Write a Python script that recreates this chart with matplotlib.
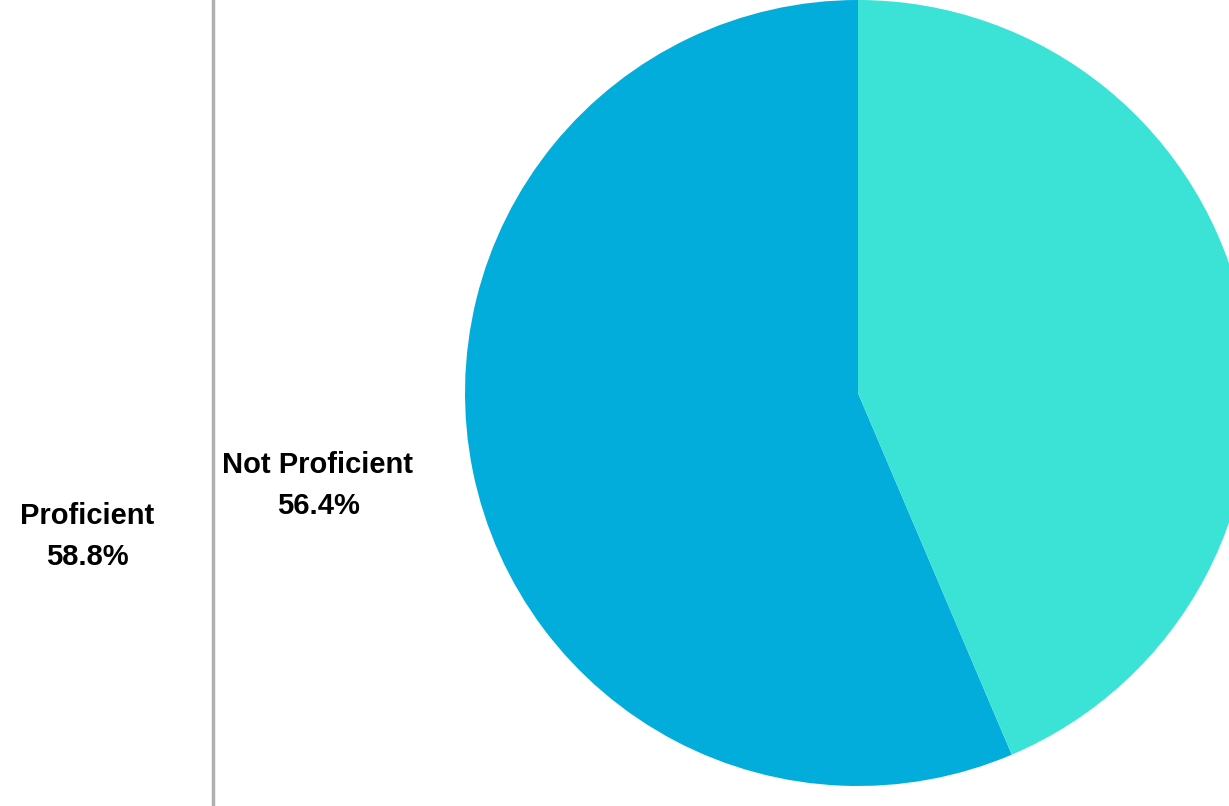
import matplotlib.pyplot as plt

# slice shares (percent)
slices = ['Not Proficient', 'Proficient']
shares = [56.4, 43.6]
colores = ['#03addb', '#3ae3d5']

# labels shown at the left
etiquetas = ['Proficient', 'Not Proficient']
valores = [58.8, 56.4]

plt.rcParams['font.family'] = ['Liberation Sans', 'DejaVu Sans']

fig = plt.figure(figsize=(12.29, 8.06), dpi=100)
ax = fig.add_axes([0, 0, 1, 1])

ax.pie(shares, colors=colores, startangle=90, counterclock=True,
       center=(858, 413), radius=393, frame=True,
       wedgeprops=dict(linewidth=0))
ax.set_xlim(0, 1229)
ax.set_ylim(0, 806)
ax.set_aspect('equal')
ax.axis('off')

# separador vertical
ax.plot([213, 213], [0, 806], color='#b0b0b0', lw=2.5)

pos = [(87, 270), (318, 321)]
for (x, y), lab, v in zip(pos, etiquetas, valores):
    ax.text(x, y + 20, lab, ha='center', va='center', fontsize=21, fontweight='bold')
    ax.text(x, y - 21, '%.1f%%' % v, ha='center', va='center', fontsize=21, fontweight='bold')

fig.savefig('out.png', dpi=100)
